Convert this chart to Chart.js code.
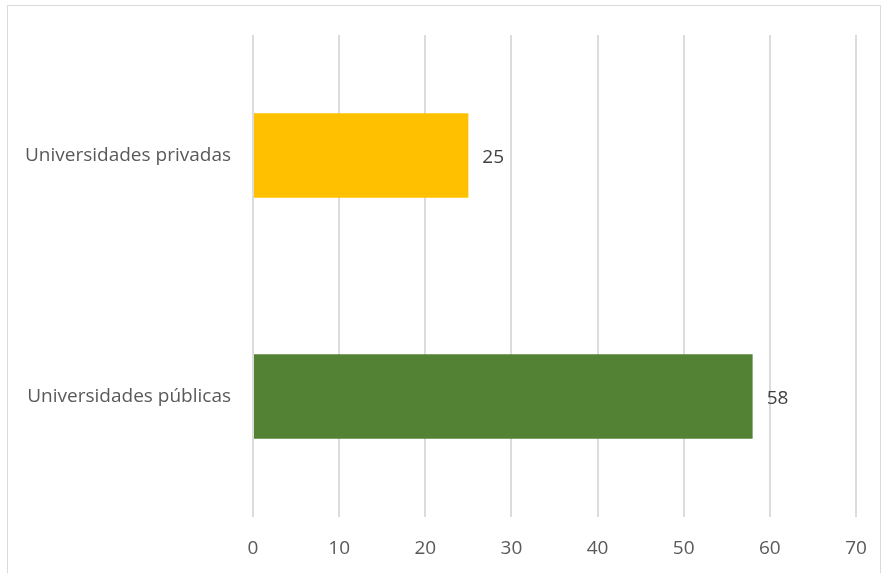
<!DOCTYPE html>
<html>
<head>
<meta charset="utf-8">
<script src="https://cdn.jsdelivr.net/npm/chart.js@4/dist/chart.umd.min.js"></script>
<style>
  html, body { margin: 0; padding: 0; background: #fff; overflow: hidden; }
  #wrap { position: absolute; left: 0; top: 0; width: 882px; height: 573px; }
  #frame { position: absolute; left: 7px; top: 5px; width: 872px; height: 580px; border: 1px solid #d9d9d9; pointer-events: none; }
</style>
</head>
<body>
<div id="wrap"><canvas id="barChart" width="882" height="573"></canvas></div>
<div id="frame"></div>
<script>
// data
const categories = ['Universidades privadas', 'Universidades públicas'];
const values = [25, 58];
const barColors = ['#FFC000', '#548235'];
const xTicks = [0, 10, 20, 30, 40, 50, 60, 70];

const FONT = "'Open Sans', 'Noto Sans', sans-serif";

// value labels at the end of each bar
const valueLabels = {
    id: 'valueLabels',
    afterDatasetsDraw(chart) {
        const c = chart.ctx;
        const meta = chart.getDatasetMeta(0);
        c.save();
        c.font = '19px ' + FONT;
        c.fillStyle = '#404040';
        c.textAlign = 'left';
        c.textBaseline = 'middle';
        meta.data.forEach((bar, i) => {
            c.fillText(String(values[i]), bar.x + 14, bar.y + 2);
        });
        c.restore();
    }
};

const ctx = document.getElementById('barChart').getContext('2d');
const barChart = new Chart(ctx, {
    type: 'bar',
    data: {
        labels: categories,
        datasets: [{
            data: values,
            backgroundColor: barColors,
            borderWidth: 0,
            categoryPercentage: 1,
            barPercentage: 0.35
        }]
    },
    options: {
        indexAxis: 'y',
        responsive: false,
        animation: false,
        layout: { padding: { left: 0, right: 26, top: 35, bottom: 0 } },
        plugins: {
            legend: { display: false },
            tooltip: { enabled: false }
        },
        scales: {
            x: {
                min: 0,
                max: 70,
                afterBuildTicks(scale) {
                    scale.ticks = xTicks.map(v => ({ value: v }));
                },
                afterFit(scale) {
                    scale.height = 56;
                    scale.paddingLeft = 0;
                    scale.paddingRight = 0;
                },
                grid: { color: '#dcdcdc', lineWidth: 2, drawTicks: false },
                border: { display: false },
                ticks: {
                    padding: 20,
                    color: '#595959',
                    font: { family: FONT, size: 19 }
                }
            },
            y: {
                afterFit(scale) { scale.width = 253; },
                grid: { display: false, drawTicks: false },
                border: { display: false },
                ticks: {
                    padding: 22,
                    color: '#595959',
                    font: { family: FONT, size: 19 }
                }
            }
        }
    },
    plugins: [valueLabels]
});
</script>
</body>
</html>
